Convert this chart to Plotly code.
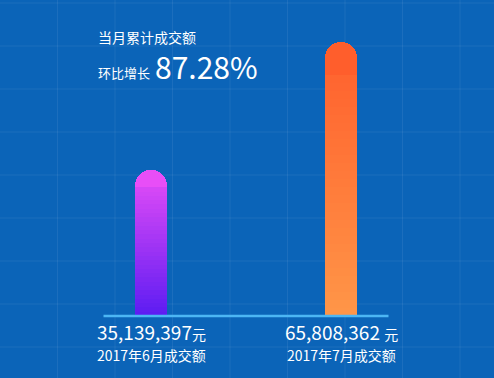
import plotly.graph_objects as go

# ---- data ----
months = ["2017年6月成交额", "2017年7月成交额"]
amounts = [35139397, 65808362]
title_text = "当月累计成交额"
growth_label = "环比增长"

# ---- style ----
W, H = 494, 378
BG = "#0b64b8"
FONT = "Noto Sans CJK SC"
top_colors = [(232, 78, 247), (255, 94, 44)]
bottom_colors = [(92, 28, 242), (255, 150, 72)]

growth = amounts[1] / amounts[0] - 1

# pixel layout helpers
baseline_px = 62      # baseline distance from bottom
max_bar_px = 274      # pixel height of largest bar
ppx = max(amounts) / max_bar_px
y0 = -baseline_px * ppx
y1 = y0 + H * ppx
cat_px = 190          # pixel distance between categories
first_center = 151
x0 = -first_center / cat_px
x1 = x0 + W / cat_px
bar_w = 32 / cat_px


def lerp(a, b, t):
    return "rgb(%d,%d,%d)" % tuple(round(a[k] + (b[k] - a[k]) * t) for k in range(3))


# gradient built from stacked slices (top slice kept tall for the rounded cap)
n_low = 30
cap_frac = 0.12
edges = [i * (1 - cap_frac) / n_low for i in range(n_low + 1)] + [1.0]

fig = go.Figure()
for j in range(len(edges) - 1):
    f0, f1 = edges[j], edges[j + 1]
    t = 1 - (f0 + f1) / 2  # 0 at top, 1 at bottom
    if j == len(edges) - 2:
        t = 0
    colors = [lerp(top_colors[i], bottom_colors[i], t) for i in range(len(amounts))]
    fig.add_trace(go.Bar(
        x=months,
        y=[a * (f1 - f0) for a in amounts],
        marker=dict(color=colors, line=dict(width=0)),
        width=bar_w,
        hoverinfo="skip",
        showlegend=False,
    ))

shapes = []
# faint background grid
for k in range(1, 9):
    xp = 57.5 * k
    shapes.append(dict(type="line", xref="paper", yref="paper", x0=xp / W, x1=xp / W,
                       y0=0, y1=1, line=dict(color="rgba(255,255,255,0.07)", width=1), layer="below"))
for k in range(0, 9):
    yp = 3 + 43 * k
    shapes.append(dict(type="line", xref="paper", yref="paper", x0=0, x1=1,
                       y0=1 - yp / H, y1=1 - yp / H, line=dict(color="rgba(255,255,255,0.07)", width=1), layer="below"))
# baseline
shapes.append(dict(type="line", xref="x", yref="y", x0=-0.25, x1=1.25, y0=0, y1=0,
                   line=dict(color="#4cb6f4", width=2.5), layer="above"))

annotations = [
    dict(text=title_text, xref="paper", yref="paper", x=96 / W, y=1 - 37 / H,
         xanchor="left", yanchor="middle", showarrow=False,
         font=dict(family=FONT, size=14, color="white")),
    dict(text=f"{growth_label}", xref="paper", yref="paper", x=96 / W, y=1 - 72 / H,
         xanchor="left", yanchor="middle", showarrow=False,
         font=dict(family=FONT, size=13, color="white")),
    dict(text=f"{growth * 100:.2f}%", xref="paper", yref="paper", x=153 / W, y=1 - 66 / H,
         xanchor="left", yanchor="middle", showarrow=False,
         font=dict(family=FONT, size=30, color="white")),
]
for i, (m, a) in enumerate(zip(months, amounts)):
    sep = "" if i == 0 else " "
    annotations.append(dict(
        text=f"{a:,}{sep}<span style='font-size:14px'>元</span>", x=i, xref="x", yref="paper",
        y=1 - 331 / H, xanchor="center", yanchor="middle", showarrow=False,
        font=dict(family=FONT, size=19, color="white")))
    annotations.append(dict(
        text=m, x=i, xref="x", yref="paper", y=1 - 355 / H, xanchor="center",
        yanchor="middle", showarrow=False,
        font=dict(family=FONT, size=14, color="white")))

fig.update_layout(
    width=W, height=H,
    margin=dict(l=0, r=0, t=0, b=0),
    paper_bgcolor=BG, plot_bgcolor=BG,
    barmode="stack", barcornerradius=16,
    xaxis=dict(range=[x0, x1], showgrid=False, zeroline=False, showticklabels=False,
               showline=False, fixedrange=True),
    yaxis=dict(range=[y0, y1], showgrid=False, zeroline=False, showticklabels=False,
               showline=False, fixedrange=True),
    shapes=shapes,
    annotations=annotations,
)

fig.write_html("out.html")
